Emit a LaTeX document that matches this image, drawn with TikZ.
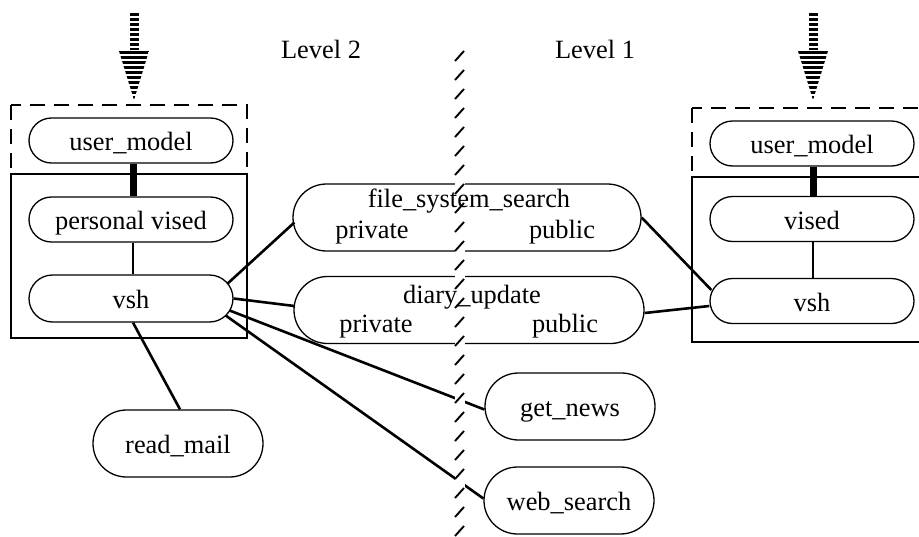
\documentclass[tikz,border=0pt]{standalone}
\usepackage{fontspec}
\setmainfont{Liberation Serif}
\usetikzlibrary{shapes.misc}
\begin{document}
\begin{tikzpicture}[x=1pt,y=-1pt,
  txt/.style={font=\fontsize{26.4}{30}\selectfont, inner sep=0pt},
  proc/.style={rounded rectangle, draw, line width=1.3pt, inner sep=0pt,
    text height=20pt, text depth=0pt, font=\fontsize{26.4}{30}\selectfont},
  small/.style={proc, minimum width=204pt, minimum height=45pt},
  big/.style={proc, minimum width=348pt, minimum height=67pt},
  mid/.style={proc, minimum width=170pt, minimum height=67pt},
  conn/.style={line width=2.6pt},
  heavy/.style={line width=7pt},
  dbox/.style={draw, line width=1.4pt, dash pattern=on 15pt off 9pt},
  sbox/.style={draw, line width=1.4pt}]
\useasboundingbox (0,0) rectangle (919,536);
\clip (0,0) rectangle (919,536);

% group boxes
\path[sbox] (11,174) rectangle (247,338);
\path[dbox] (11,105) rectangle (247,174);
\path[sbox] (692,177) rectangle (940,342);
\path[dbox] (692,108) rectangle (940,177);

% labels
\node[txt, anchor=base] (lvl2) at (321,58) {Level 2};
\node[txt, anchor=base] (lvl1) at (595,58) {Level 1};

% left stack
\node[small] (lum) at (131,140.5) {user\_model};
\node[small] (lpv) at (131,219.5) {personal vised};
\node[small, minimum height=47pt] (lvsh) at (131,298.5) {vsh};
\node[mid] (mail) at (178,443.5) {read\_mail};

% right stack
\node[small] (rum) at (812,143.5) {user\_model};
\node[small] (rvis) at (812,219) {vised};
\node[small] (rvsh) at (812,301) {vsh};

% middle
\node[big] (fss) at (467,217.5) {};
\node[big, minimum width=350pt] (diary) at (469,310) {};
\node[mid] (news) at (570,406.5) {get\_news};
\node[mid] (web) at (569,500.5) {web\_search};

% connectors
\draw[heavy] ([xshift=2pt]lum.south) -- ([xshift=2pt]lum.south |- lpv.north);
\draw[conn] ([xshift=2pt]lpv.south) -- ([xshift=2pt]lpv.south |- lvsh.north);
\draw[heavy] ([xshift=1pt]rum.south) -- ([xshift=1pt]rum.south |- rvis.north);
\draw[conn] ([xshift=1pt]rvis.south) -- ([xshift=1pt]rvis.south |- rvsh.north);
\draw[conn] ([shift={(-6,-15)}]lvsh.east) -- ([shift={(2,5)}]fss.west);
\draw[conn] ([shift={(0,0)}]lvsh.east) -- ([shift={(1,-4)}]diary.west);
\draw[conn] ([shift={(-4,12)}]lvsh.east) -- ([shift={(0,3)}]news.west);
\draw[conn] ([shift={(-8,17)}]lvsh.east) -- ([shift={(0,-2)}]web.west);
\draw[conn] ([xshift=2pt]lvsh.south) -- ([xshift=2pt]mail.north);
\draw[conn] (fss.east) -- ([shift={(2,-11)}]rvsh.west);
\draw[conn] ([shift={(0,3)}]diary.east) -- ([shift={(0,5)}]rvsh.west);

% level separator
\fill[white] (455,46) rectangle (465,536);
\foreach \k in {0,...,25}
  \draw[line width=1.9pt] (455,61+19*\k) -- (464,51+19*\k);

% texts of the two split processes (on top of the separator)
\node[txt, anchor=base] (fsst) at (469,207) {file\_system\_search};
\node[txt, anchor=base] (fssa) at (372,238) {private};
\node[txt, anchor=base] (fssb) at (562,238) {public};
\node[txt, anchor=base] (diat) at (472,303) {diary\_update};
\node[txt, anchor=base] (diaa) at (376,332) {private};
\node[txt, anchor=base] (diab) at (565,332) {public};

% incoming striped arrows
\foreach \ax/\nm in {134/l,813/r} {
  \coordinate (\nm top) at (\ax,13);
  \coordinate (\nm neck) at (\ax,50);
  \coordinate (\nm tip) at (\ax,100);
  \draw[line width=9pt, dash pattern=on 3pt off 2pt] (\nm top) -- (\nm neck);
  \begin{scope}
    \clip (\ax-15,51) -- (\ax+15,51) -- (\nm tip) -- cycle;
    \foreach \k in {0,...,9}
      \fill (\ax-15,51+5*\k) rectangle (\ax+15,54+5*\k);
  \end{scope}
}
\end{tikzpicture}
\end{document}
